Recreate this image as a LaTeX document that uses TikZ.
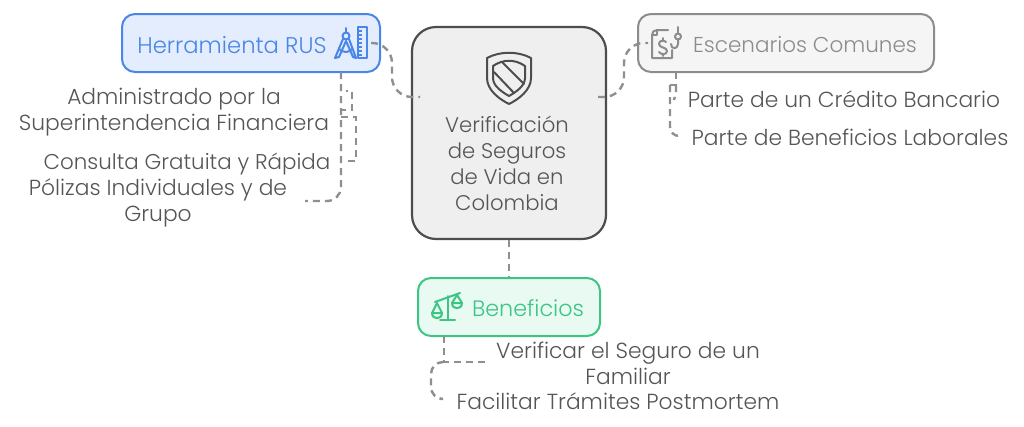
\documentclass[tikz,border=0pt]{standalone}
\usepackage{fontspec}
\setmainfont{Poppins}[UprightFont=* Light]
\usetikzlibrary{positioning, calc}
\definecolor{bluemain}{HTML}{4A86E8}
\definecolor{bluefill}{HTML}{E3EDFD}
\definecolor{greymain}{HTML}{8C8C8C}
\definecolor{greyfill}{HTML}{F5F5F5}
\definecolor{greenmain}{HTML}{3CC583}
\definecolor{greenfill}{HTML}{E8FAF2}
\definecolor{darkmain}{HTML}{4D4D4D}
\definecolor{centerfill}{HTML}{EFEFEF}
\definecolor{linkgrey}{HTML}{8F8F8F}
\definecolor{textgrey}{HTML}{555555}

\begin{document}
\begin{tikzpicture}[x=1pt, y=-1pt, node font=\fontsize{21.8}{26}\selectfont]
  % Define styles
  \tikzstyle{topic} = [rectangle, rounded corners=13pt, line width=2pt, minimum height=58pt, inner sep=0pt]
  \tikzstyle{rustopic} = [topic, minimum width=258pt, draw=bluemain, fill=bluefill, text=bluemain]
  \tikzstyle{esctopic} = [topic, minimum width=296pt, draw=greymain, fill=greyfill, text=greymain]
  \tikzstyle{bentopic} = [topic, minimum width=182pt, draw=greenmain, fill=greenfill, text=greenmain]
  \tikzstyle{central} = [rectangle, rounded corners=24pt, line width=2.2pt, minimum width=194pt, minimum height=212pt, draw=darkmain, fill=centerfill]
  \tikzstyle{leaf} = [text=textgrey, align=center, inner sep=0pt, yshift=-0.6pt]
  \tikzstyle{link} = [draw=linkgrey, line width=2.4pt, dash pattern=on 7pt off 5pt]
  \tikzstyle{icon} = [line width=2pt, line cap=round, line join=round]

  \useasboundingbox (0,0) rectangle (1024,426);

  % Place nodes
  \node [central] (center) at (509,133) {};
  \node [rustopic] (rus) at (251,43) {};
  \node [esctopic] (esc) at (786,43) {};
  \node [bentopic] (ben) at (509,307) {};

  \node [leaf, text=bluemain, node font=\fontsize{22.7}{26}\selectfont] (rustext) at (232,44) {Herramienta RUS};
  \node [leaf, text=greymain, node font=\fontsize{21.5}{26}\selectfont] (esctext) at (805,44) {Escenarios Comunes};
  \node [leaf, text=greenmain, node font=\fontsize{22.3}{26}\selectfont] (bentext) at (528,308) {Beneficios};
  \node [leaf, node font=\fontsize{21.2}{26}\selectfont] (centertext) at (507,163) {Verificación\\de Seguros\\de Vida en\\Colombia};

  \node [leaf] (admin) at (174,112) {Administrado por la\\Superintendencia Financiera};
  \node [leaf, node font=\fontsize{21.4}{26}\selectfont] (consulta) at (187,163) {Consulta Gratuita y Rápida};
  \node [leaf] (polizas) at (158,202) {Pólizas Individuales y de\\Grupo};
  \node [leaf] (credito) at (844,99) {Parte de un Crédito Bancario};
  \node [leaf] (laborales) at (850,137) {Parte de Beneficios Laborales};
  \node [leaf] (familiar) at (628,363) {Verificar el Seguro de un\\Familiar};
  \node [leaf] (tramites) at (618,401) {Facilitar Trámites Postmortem};

  % Free ends of the edges
  \coordinate (rusout) at (371,43);
  \coordinate (rusbend) at (392,97);
  \coordinate (centerleft) at (420,97);
  \coordinate (centerright) at (598,97);
  \coordinate (escbend) at (624,43);
  \coordinate (escin) at (648,43);
  \coordinate (rusdown) at (341,72);
  \coordinate (escdown) at (676,72);
  \coordinate (bendown) at (444,336);

  % Draw edges
  \path [link, rounded corners=20pt] (rusout) -| (rusbend) -- (centerleft);
  \path [link, rounded corners=20pt] (centerright) -| (escbend) -- (escin);
  \path [link] (center.south) -- (ben.north);

  \path [link] (rusdown) -- (341,110) -- (352,110) -- (352,91) -- (346,91);
  \path [link] (341,117) -- (356,117) -- (356,161) -- (348,161);
  \path [link, rounded corners=14pt] (rusdown) -- (341,201) -- (305,201);

  \path [link] (escdown) -- (676,85) -- (670,85);
  \path [link, rounded corners=9pt] (670,85) -- (670,136) -- (680,136);
  \path [link] (676,85) -- (676,92) -- (674,100);

  \path [link] (bendown) |- (485,362);
  \path [link, rounded corners=12pt] (444,362) -- (431,362) -- (431,399) -- (438,399);

  % Shield icon
  \draw [icon, darkmain] (487,58) .. controls (500,51) and (518,51) .. (531,58) -- (531,78) .. controls (531,90) and (519,99) .. (509,104) .. controls (499,99) and (487,90) .. (487,78) -- cycle;
  \draw [icon, darkmain] (493,66) .. controls (503,59) and (515,59) .. (525,66) -- (525,78) .. controls (525,86) and (516,92) .. (509,96) .. controls (502,92) and (493,86) .. (493,78) -- cycle;
  \draw [icon, darkmain] (502,62) -- (524,84);
  \draw [icon, darkmain] (494,72) -- (514,93);

  % Compass and ruler icon
  \draw [icon, bluemain] (346,28) -- (346,32);
  \draw [icon, bluemain] (346,36) circle (3.5pt);
  \draw [icon, bluemain] (343,39) -- (335,58) -- (339,57) -- (346,41) -- (353,57) -- (356,58) -- (349,39);
  \draw [icon, bluemain] (339,49) .. controls (344,53) and (348,53) .. (352,49);
  \draw [icon, bluemain] (358,27) rectangle (367,58);
  \foreach \ypos in {31,35,39,43,47,51,55}
    \draw [bluemain, line width=1.3pt] (358,\ypos) -- (362,\ypos);

  % Document and hook icon
  \draw [icon, greymain] (668,30) -- (657,30) .. controls (654,30) and (652,32) .. (652,35) -- (652,58) -- (672,58) -- (672,50);
  \draw [icon, greymain] (652,35) -- (657,35) -- (657,30);
  \draw [icon, greymain] (666,42) .. controls (664,40) and (659,40) .. (659,44) .. controls (659,48) and (667,47) .. (667,51) .. controls (667,55) and (661,55) .. (659,52);
  \draw [icon, greymain] (663,38) -- (663,41) (663,54) -- (663,56);
  \draw [icon, greymain] (678,27) -- (678,33);
  \draw [icon, greymain] (678,36.5) circle (3pt);
  \draw [icon, greymain] (678,40) -- (678,44) .. controls (678,49) and (671,50) .. (671,44);

  % Scales icon
  \draw [icon, greenmain] (435,302) -- (460,293);
  \draw [icon, greenmain] (447.5,296) -- (447.5,320) (440,320) -- (455,320);
  \draw [icon, greenmain] (432,313) -- (437,303) -- (442,313);
  \draw [icon, greenmain] (432,313) -- (442,313) .. controls (442,320) and (432,320) .. (432,313);
  \draw [icon, greenmain] (452,303) -- (457,295) -- (462,303);
  \draw [icon, greenmain] (452,303) -- (462,303) .. controls (462,310) and (452,310) .. (452,303);

\end{tikzpicture}
\end{document}
